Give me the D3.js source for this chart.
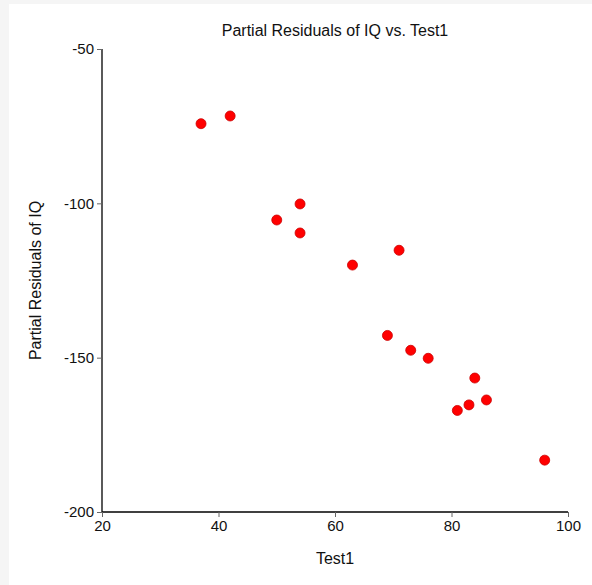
<!DOCTYPE html>
<html>
<head>
<meta charset="utf-8">
<script src="https://cdn.jsdelivr.net/npm/d3@7"></script>
<style>
  html, body { margin: 0; padding: 0; background: #f5f5f5; }
  svg { display: block; }
  text { font-family: Arial, "Liberation Sans", sans-serif; fill: #111; }
</style>
</head>
<body>
<div id="chart"></div>
<script>
// Partial residuals of IQ against Test1
var test1 = [37, 42, 50, 54, 54, 63, 71, 69, 73, 76, 84, 81, 83, 86, 96];
var residIQ = [-74.2, -71.7, -105.4, -100.2, -109.6, -120.0, -115.2, -142.8, -147.6, -150.2, -156.6, -167.1, -165.3, -163.7, -183.2];
var xTicks = [20, 40, 60, 80, 100];
var yTicks = [-50, -100, -150, -200];

var W = 592, H = 585;
var margin = {top: 49, right: 24, bottom: 73, left: 102};
var width = W - margin.left - margin.right,
    height = H - margin.top - margin.bottom;

var root = d3.select("#chart")
  .append("svg")
  .attr("width", W)
  .attr("height", H);

// white panel on light gray page
root.append("rect")
  .attr("x", 9).attr("y", 4)
  .attr("width", W - 9).attr("height", H - 4)
  .attr("fill", "#fff");

var svg = root.append("g")
  .attr("transform", "translate(" + margin.left + "," + margin.top + ")");

var x = d3.scaleLinear().domain([20, 100]).range([0, width]);
var y = d3.scaleLinear().domain([-200, -50]).range([height, 0]);

// plain hyphen for negatives, like the original
var fmt = function(d) { return String(d); };

var xAxis = svg.append("g")
  .attr("transform", "translate(0," + height + ")")
  .call(d3.axisBottom(x).tickValues(xTicks).tickFormat(fmt).tickSize(5).tickPadding(3));

var yAxis = svg.append("g")
  .call(d3.axisLeft(y).tickValues(yTicks).tickFormat(fmt).tickSize(5).tickPadding(3));

[xAxis, yAxis].forEach(function(a) {
  a.select(".domain").attr("stroke", "#000").attr("stroke-width", 1.3);
  a.selectAll(".tick line").attr("stroke", "#666");
  a.selectAll(".tick text")
    .style("font-family", "Arial, 'Liberation Sans', sans-serif")
    .style("font-size", "15px")
    .attr("fill", "#111");
});
// trim the outer tick ends of the domain paths
xAxis.select(".domain").attr("d", "M0,0H" + width);
yAxis.select(".domain").attr("d", "M0," + height + "V0");

svg.append("g")
  .selectAll("circle")
  .data(test1)
  .join("circle")
  .attr("cx", function(d) { return x(d); })
  .attr("cy", function(d, i) { return y(residIQ[i]); })
  .attr("r", 5)
  .attr("fill", "#f00")
  .attr("stroke", "#c00")
  .attr("stroke-width", 0.8);

svg.append("text")
  .attr("x", width / 2)
  .attr("y", -13)
  .attr("text-anchor", "middle")
  .style("font-size", "16px")
  .text("Partial Residuals of IQ vs. Test1");

svg.append("text")
  .attr("x", width / 2)
  .attr("y", height + 52)
  .attr("text-anchor", "middle")
  .style("font-size", "16px")
  .text("Test1");

svg.append("text")
  .attr("transform", "translate(-61," + (height / 2) + ") rotate(-90)")
  .attr("text-anchor", "middle")
  .style("font-size", "16px")
  .text("Partial Residuals of IQ");
</script>
</body>
</html>
